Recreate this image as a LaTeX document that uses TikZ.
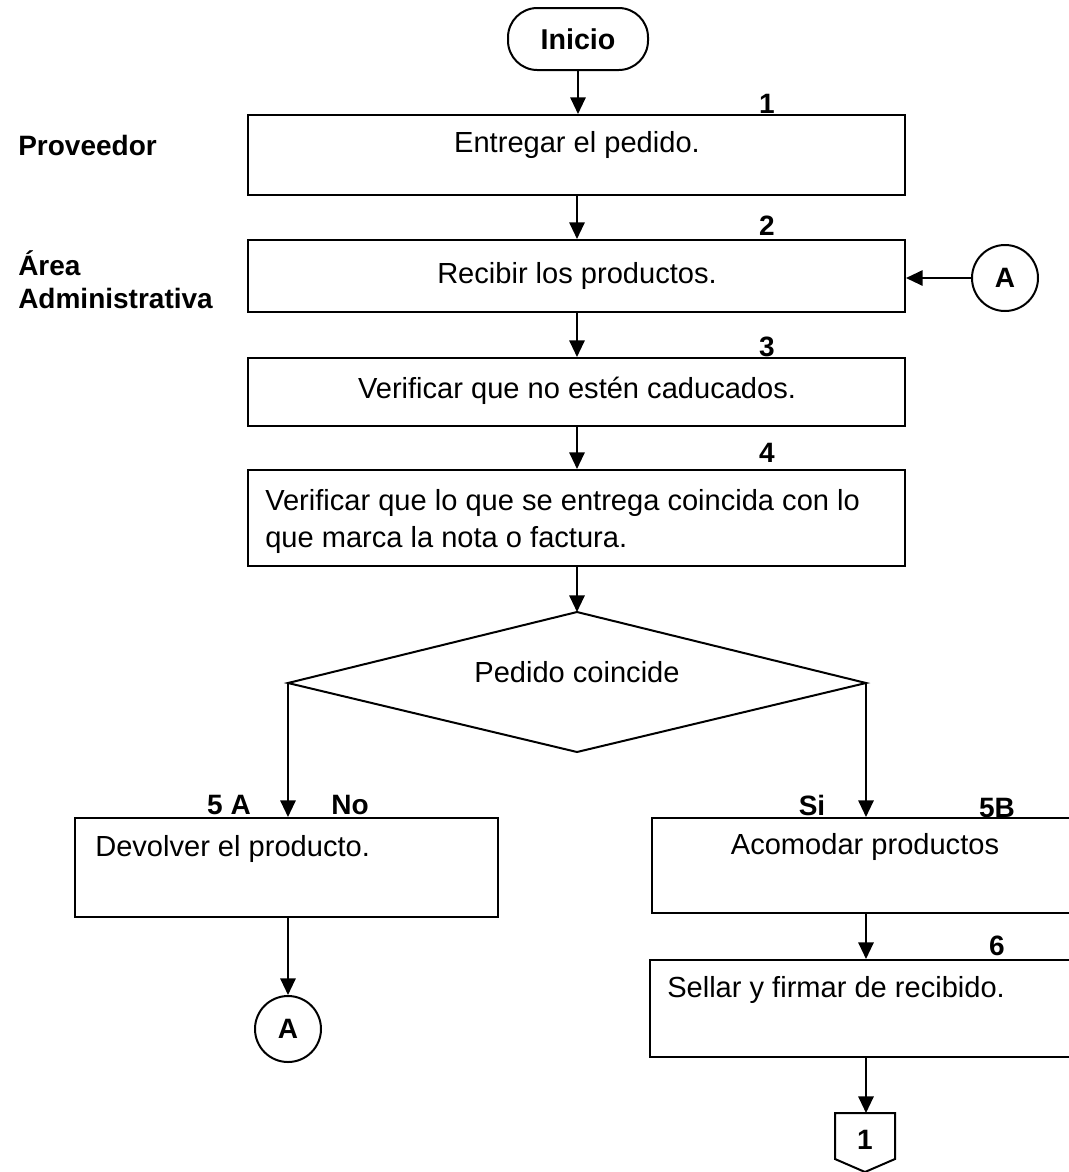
\documentclass[tikz,border=0pt]{standalone}
\usepackage{fontspec}
\setmainfont{Liberation Sans}
\usetikzlibrary{arrows.meta,positioning}
\begin{document}
\begin{tikzpicture}[x=0.75pt,y=-0.75pt,
  every node/.style={font=\fontsize{21.8}{27}\selectfont},
  ln/.style={line width=1.5pt},
  box/.style={draw,line width=1.5pt,inner sep=0pt},
  arr/.style={line width=1.5pt,-{Triangle[length=12.5pt,width=11.5pt]}},
  lbl/.style={font=\fontsize{21}{25}\selectfont\bfseries,inner sep=0pt},
  txt/.style={inner sep=0pt},
  conn/.style={draw,circle,line width=1.5pt,minimum size=49.5pt,inner sep=0pt,font=\fontsize{21}{25}\selectfont\bfseries}]
\useasboundingbox (0,0) rectangle (1069,1172);
\clip (0,0) rectangle (1069,1172);

% start
\node[draw,line width=1.5pt,rounded corners=22pt,minimum width=105pt,minimum height=46.5pt,inner sep=0pt,font=\fontsize{21.5}{25}\selectfont\bfseries] (ini) at (578,39) {Inicio};

% boxes
\node[box,minimum width=492.75pt,minimum height=60pt] (b1) at (576.5,155) {};
\node[box,minimum width=492.75pt,minimum height=54pt] (b2) at (576.5,276) {};
\node[box,minimum width=492.75pt,minimum height=51pt] (b3) at (576.5,392) {};
\node[box,minimum width=492.75pt,minimum height=72pt] (b4) at (576.5,518) {};
\node[box,minimum width=317.25pt,minimum height=74.25pt] (b5a) at (286.5,867.5) {};
\node[box,minimum width=328.5pt,minimum height=71.25pt] (b5b) at (871,865.5) {};
\node[box,minimum width=330pt,minimum height=72.75pt] (b6) at (870,1008.5) {};

% box texts
\node[txt] (t1) at (577,145) {Entregar el pedido.};
\node[txt] (t2) at (577,276) {Recibir los productos.};
\node[txt] (t3) at (577,391) {Verificar que no estén caducados.};
\node[txt,anchor=west] (t4a) at (265,503) {Verificar que lo que se entrega coincida con lo};
\node[txt,anchor=west] (t4b) at (265,540) {que marca la nota o factura.};
\node[txt,anchor=west] (t5a) at (95,849) {Devolver el producto.};
\node[txt] (t5b) at (865,847) {Acomodar productos};
\node[txt,anchor=west] (t6) at (667,990) {Sellar y firmar de recibido.};

% side labels
\node[lbl,anchor=west] (prov) at (18,145) {Proveedor};
\node[lbl,anchor=west,align=left] (area) at (18,280) {Área\\Administrativa};

% step numbers
\node[lbl] (n1) at (767,104) {1};
\node[lbl] (n2) at (767,226) {2};
\node[lbl] (n3) at (767,347) {3};
\node[lbl] (n4) at (767,453) {4};
\node[lbl] (n5a) at (229,805) {5 A};
\node[lbl] (nno) at (350,805) {No};
\node[lbl] (nsi) at (812,805) {Si};
\node[lbl] (n5b) at (997,808) {5B};
\node[lbl] (n6) at (997,946) {6};

% decision
\coordinate (dt) at (577,612);
\coordinate (dl) at (288,683);
\coordinate (dr) at (866,683);
\coordinate (db) at (577,752);
\draw[ln,line join=miter] (dt) -- (dr) -- (db) -- (dl) -- cycle;
\node[txt] (dec) at (577,672) {Pedido coincide};

% connectors
\node[conn] (ca) at (1005,278) {A};
\node[conn] (cb) at (288,1029) {A};

% off-page
\coordinate (op1) at (835,1113);
\coordinate (op2) at (895,1113);
\coordinate (op3) at (895,1159);
\coordinate (op4) at (865,1172);
\coordinate (op5) at (835,1159);
\coordinate (opt) at (866,1113);
\draw[ln] (op1) -- (op2) -- (op3) -- (op4) -- (op5) -- cycle;
\node[lbl] (opn) at (865,1140) {1};

% arrows
\draw[arr] (ini.south) -- (ini.south |- b1.north);
\draw[arr] (t1 |- b1.south) -- (t1 |- b2.north);
\draw[arr] (t1 |- b2.south) -- (t1 |- b3.north);
\draw[arr] (t1 |- b3.south) -- (t1 |- b4.north);
\draw[arr] (t1 |- b4.south) -- (dt);
\draw[arr] (ca.west) -- (ca.west -| b2.east);
\draw[arr] (dl) -- (dl |- b5a.north);
\draw[arr] (dr) -- (dr |- b5b.north);
\draw[arr] (dl |- b5a.south) -- (cb.north);
\draw[arr] (dr |- b5b.south) -- (dr |- b6.north);
\draw[arr] (dr |- b6.south) -- (opt);
\end{tikzpicture}
\end{document}
